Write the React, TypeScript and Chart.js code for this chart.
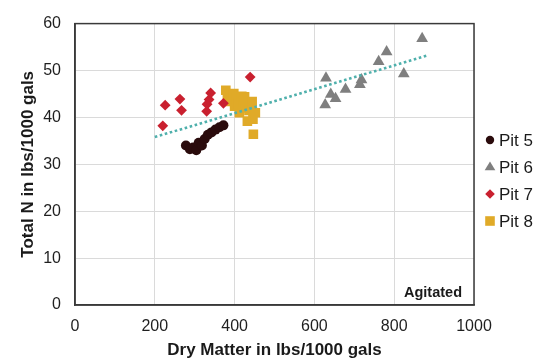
import React, { useEffect, useRef } from 'react';
import { Chart, registerables } from 'chart.js';

Chart.register(...registerables);

// ---- Data ----
const seriesNames = ['Pit 5', 'Pit 6', 'Pit 7', 'Pit 8'];

const pit5X = [278, 288, 296, 304, 310, 318, 325, 333, 342, 352, 362, 372];
const pit5Y = [34.0, 33.2, 33.6, 33.0, 34.6, 34.0, 35.4, 36.3, 36.8, 37.4, 37.9, 38.3];

const pit6X = [627, 629, 641, 653, 678, 714, 718, 761, 781, 824, 870];
const pit6Y = [42.7, 48.4, 44.9, 44.0, 46.0, 47.0, 48.0, 51.9, 54.0, 49.3, 56.8];

const pit7X = [220, 226, 263, 267, 330, 331, 336, 340, 372, 439];
const pit7Y = [38.2, 42.6, 43.9, 41.5, 41.3, 42.8, 43.8, 45.2, 43.0, 48.6];

const pit8X = [378, 382, 386, 392, 398, 400, 404, 410, 412, 418, 422, 425, 428, 432, 436, 440, 444, 446, 452, 447];
const pit8Y = [45.8, 44.5, 43.4, 44.8, 45.1, 42.4, 44.0, 43.0, 41.0, 44.5, 43.4, 44.4, 42.0, 39.2, 41.5, 42.4, 43.4, 39.6, 41.0, 36.4];

const trendX = [200, 886];
const trendY = [35.8, 53.3];

const xTicks = [0, 200, 400, 600, 800, 1000];
const yTicks = [0, 10, 20, 30, 40, 50, 60];

const xTitle = 'Dry Matter in lbs/1000 gals';
const yTitle = 'Total N in lbs/1000 gals';
const noteText = 'Agitated';

const colors = ['#2a0b0c', '#7f7f7f', '#c9202f', '#e0aa28'];
const styles = ['circle', 'triangle', 'rectRot', 'rect'];
const radii = [5, 6.8, 5.4, 6.8];
const trendColor = '#4fb0ac';
const FONT = '"Liberation Sans", Arial, sans-serif';

const toPts = (xs: number[], ys: number[]) => xs.map((x, i) => ({ x, y: ys[i] }));

function drawMarker(ctx: CanvasRenderingContext2D, style: string, x: number, y: number, r: number, color: string) {
  ctx.save();
  ctx.fillStyle = color;
  ctx.beginPath();
  if (style === 'circle') {
    ctx.arc(x, y, r, 0, Math.PI * 2);
  } else if (style === 'triangle') {
    ctx.moveTo(x, y - r);
    ctx.lineTo(x + r * 0.95, y + r * 0.6);
    ctx.lineTo(x - r * 0.95, y + r * 0.6);
    ctx.closePath();
  } else if (style === 'rectRot') {
    ctx.moveTo(x, y - r);
    ctx.lineTo(x + r, y);
    ctx.lineTo(x, y + r);
    ctx.lineTo(x - r, y);
    ctx.closePath();
  } else {
    ctx.rect(x - r, y - r, 2 * r, 2 * r);
  }
  ctx.fill();
  ctx.restore();
}

const overlayPlugin = {
  id: 'overlay',
  afterDraw(chart: any) {
    const { ctx, chartArea } = chart;
    const { left, right, top, bottom } = chartArea;
    ctx.save();
    // frame
    ctx.strokeStyle = '#3a3a3a';
    ctx.lineWidth = 1.5;
    ctx.strokeRect(left, top, right - left, bottom - top);

    ctx.fillStyle = '#1a1a1a';
    // y title
    ctx.save();
    ctx.translate(28, (top + bottom) / 2);
    ctx.rotate(-Math.PI / 2);
    ctx.font = `bold 17px ${FONT}`;
    ctx.textAlign = 'center';
    ctx.textBaseline = 'middle';
    ctx.fillText(yTitle, 0, 0);
    ctx.restore();
    // x title
    ctx.font = `bold 17px ${FONT}`;
    ctx.textAlign = 'center';
    ctx.textBaseline = 'middle';
    ctx.fillText(xTitle, (left + right) / 2, 350);
    // note
    ctx.font = `bold 14.5px ${FONT}`;
    ctx.textAlign = 'right';
    ctx.fillText(noteText, right - 12, bottom - 12);

    // legend
    const legY = [140, 167, 194, 221];
    ctx.font = `17px ${FONT}`;
    ctx.textAlign = 'left';
    seriesNames.forEach((name, i) => {
      const lr = [4.2, 5.6, 4.8, 4.8][i];
      drawMarker(ctx, styles[i], 490, legY[i], lr, colors[i]);
      ctx.fillStyle = '#1a1a1a';
      ctx.fillText(name, 499, legY[i] + 1);
    });
    ctx.restore();
  },
};

export default function App() {
  const ref = useRef<HTMLCanvasElement | null>(null);
  useEffect(() => {
    document.body.style.margin = '0';
    const canvas = ref.current;
    if (!canvas) return;
    const pitX = [pit5X, pit6X, pit7X, pit8X];
    const pitY = [pit5Y, pit6Y, pit7Y, pit8Y];
    const chart = new Chart(canvas, {
      type: 'scatter',
      data: {
        datasets: [
          {
            type: 'line',
            label: 'Trend',
            data: toPts(trendX, trendY),
            borderColor: trendColor,
            borderWidth: 2.6,
            borderDash: [2.6, 2.6],
            pointRadius: 0,
            fill: false,
          } as any,
          ...seriesNames.map((name, i) => ({
            label: name,
            data: toPts(pitX[i], pitY[i]),
            backgroundColor: colors[i],
            borderColor: colors[i],
            borderWidth: 0,
            pointStyle: styles[i],
            pointRadius: radii[i],
          })),
        ],
      },
      options: {
        responsive: false,
        animation: false,
        layout: { padding: { top: 17, right: 74, left: 0, bottom: 0 } },
        plugins: { legend: { display: false }, tooltip: { enabled: false } },
        scales: {
          x: {
            type: 'linear',
            min: 0,
            max: 1000,
            afterBuildTicks: (s: any) => { s.ticks = xTicks.map((v) => ({ value: v })); },
            afterFit: (s: any) => { s.height = 59; },
            ticks: { color: '#1f1f1f', font: { size: 16, family: FONT }, padding: 12, callback: (v: any) => String(v) },
            grid: { color: '#dadada', lineWidth: 1, drawTicks: false },
            border: { display: true, color: '#3a3a3a', width: 1.5 },
          },
          y: {
            type: 'linear',
            min: 0,
            max: 60,
            afterBuildTicks: (s: any) => { s.ticks = yTicks.map((v) => ({ value: v })); },
            afterFit: (s: any) => { s.width = 75; },
            ticks: { color: '#1f1f1f', font: { size: 16, family: FONT }, padding: 14, callback: (v: any) => String(v) },
            grid: { color: '#dadada', lineWidth: 1, drawTicks: false },
            border: { display: true, color: '#3a3a3a', width: 1.5 },
          },
        },
      },
      plugins: [overlayPlugin],
    });
    return () => chart.destroy();
  }, []);
  return (
    <div style={{ position: 'absolute', left: 0, top: 0, width: 548, height: 364, background: '#fff' }}>
      <canvas ref={ref} width={548} height={364} style={{ width: 548, height: 364, display: 'block' }} />
    </div>
  );
}
